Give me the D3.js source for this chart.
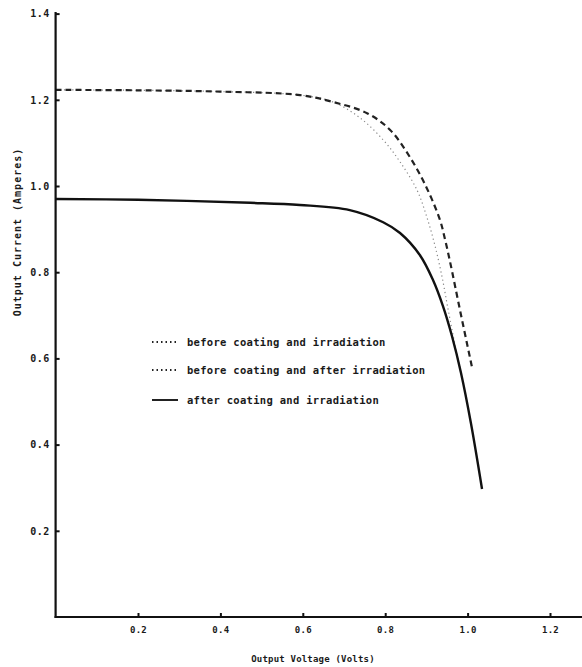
<!DOCTYPE html>
<html><head><meta charset="utf-8">
<script src="https://cdn.jsdelivr.net/npm/d3@7"></script>
<style>
html,body{margin:0;padding:0;background:#fff;}
svg{display:block;}
text{font-family:"DejaVu Sans Mono","Liberation Mono",monospace;font-weight:bold;fill:#1a1a1a;}
</style></head>
<body>
<svg id="chart" width="582" height="667"></svg>
<script>
// ---- data ----
const xTicks = [0.2, 0.4, 0.6, 0.8, 1.0, 1.2];
const yTicks = [0.2, 0.4, 0.6, 0.8, 1.0, 1.2, 1.4];
const xTickLabels = ["0.2", "0.4", "0.6", "0.8", "1.0", "1.2"];
const yTickLabels = ["0.2", "0.4", "0.6", "0.8", "1.0", "1.2", "1.4"];

// before coating and after irradiation (dashed)
const dashedV = [0.0, 0.2, 0.4, 0.593, 0.673, 0.756, 0.812, 0.860, 0.901, 0.933, 0.945, 0.957, 0.982, 1.011];
const dashedI = [1.223, 1.222, 1.219, 1.211, 1.195, 1.169, 1.130, 1.067, 0.995, 0.921, 0.877, 0.826, 0.710, 0.578];

// before coating and irradiation (faint dotted)
const dottedV = [0.0, 0.2, 0.4, 0.593, 0.673, 0.739, 0.795, 0.836, 0.877, 0.901, 0.921, 0.938, 0.952, 0.967, 0.984];
const dottedI = [1.223, 1.222, 1.219, 1.211, 1.195, 1.158, 1.107, 1.056, 0.991, 0.928, 0.861, 0.789, 0.717, 0.643, 0.566];

// after coating and irradiation (solid)
const solidV = [0.0, 0.2, 0.472, 0.593, 0.714, 0.795, 0.836, 0.884, 0.916, 0.940, 0.962, 0.984, 1.008, 1.035];
const solidI = [0.970, 0.968, 0.961, 0.956, 0.944, 0.916, 0.891, 0.840, 0.782, 0.722, 0.652, 0.566, 0.450, 0.297];

const legendLabels = ["before coating and irradiation",
                      "before coating and after irradiation",
                      "after coating and irradiation"];

// ---- drawing ----
const svg = d3.select("#chart");
const x0 = 55.6, y0 = 617;
const x = d3.scaleLinear().domain([0, 1.2]).range([x0, x0 + 412 * 1.2]);
const y = d3.scaleLinear().domain([0, 1.4]).range([y0, y0 - 431 * 1.4]);

const line = d3.line().x(d => x(d[0])).y(d => y(d[1])).curve(d3.curveCatmullRom.alpha(0.5));
const zip = (a, b) => a.map((v, i) => [v, b[i]]);

// dotted curve (faint)
svg.append("path").datum(zip(dottedV, dottedI)).attr("d", line)
  .attr("fill", "none").attr("stroke", "#888").attr("stroke-width", 1.2)
  .attr("stroke-dasharray", "1.2,3");
// dashed curve
svg.append("path").datum(zip(dashedV, dashedI)).attr("d", line)
  .attr("fill", "none").attr("stroke", "#222").attr("stroke-width", 2.2)
  .attr("stroke-dasharray", "6,4");
// solid curve
svg.append("path").datum(zip(solidV, solidI)).attr("d", line)
  .attr("fill", "none").attr("stroke", "#111").attr("stroke-width", 2.4);

// axes
const yAxis = d3.axisLeft(y).tickValues(yTicks)
  .tickFormat((d, i) => yTickLabels[i]).tickSizeInner(-4).tickSizeOuter(0).tickPadding(6);
const xAxis = d3.axisBottom(x).tickValues(xTicks)
  .tickFormat((d, i) => xTickLabels[i]).tickSizeInner(-4).tickSizeOuter(0).tickPadding(10);

const gy = svg.append("g").attr("transform", `translate(${x0},0)`).call(yAxis);
const gx = svg.append("g").attr("transform", `translate(0,${y0})`).call(xAxis);
gy.select(".domain").remove();
gx.select(".domain").remove();
gy.selectAll(".tick line").attr("stroke", "#111").attr("stroke-width", 2);
gx.selectAll(".tick line").attr("stroke", "#111").attr("stroke-width", 2);
gy.selectAll(".tick text").attr("font-size", 10).attr("letter-spacing", 0.4).attr("fill", "#333");
gx.selectAll(".tick text").attr("font-size", 9).attr("letter-spacing", 0.3).attr("fill", "#333");

// axis lines
svg.append("line").attr("x1", x0).attr("x2", x0).attr("y1", 12).attr("y2", y0 + 1)
  .attr("stroke", "#111").attr("stroke-width", 2.2);
svg.append("line").attr("x1", x0 - 1).attr("x2", 582).attr("y1", y0).attr("y2", y0)
  .attr("stroke", "#111").attr("stroke-width", 2.2);

// axis titles
svg.append("text").attr("x", 313).attr("y", 662).attr("text-anchor", "middle")
  .attr("font-size", 9).attr("letter-spacing", 0.2).text("Output Voltage (Volts)");
svg.append("text").attr("transform", "translate(21,232) rotate(-90)").attr("text-anchor", "middle")
  .attr("font-size", 10).attr("letter-spacing", 1).text("Output Current (Amperes)");

// legend
const legendY = [342, 370, 400];
const legendDash = ["1.5,3", "1.5,3", null];
legendLabels.forEach((lab, i) => {
  const ly = legendY[i];
  const l = svg.append("line").attr("x1", 152).attr("x2", 178).attr("y1", ly).attr("y2", ly)
    .attr("stroke", "#222").attr("stroke-width", i === 2 ? 2 : 1.8);
  if (legendDash[i]) l.attr("stroke-dasharray", legendDash[i]);
  svg.append("text").attr("x", 187).attr("y", ly + 3.5).attr("font-size", 10.5)
    .attr("letter-spacing", 0.3).text(lab);
});
</script>
</body></html>
